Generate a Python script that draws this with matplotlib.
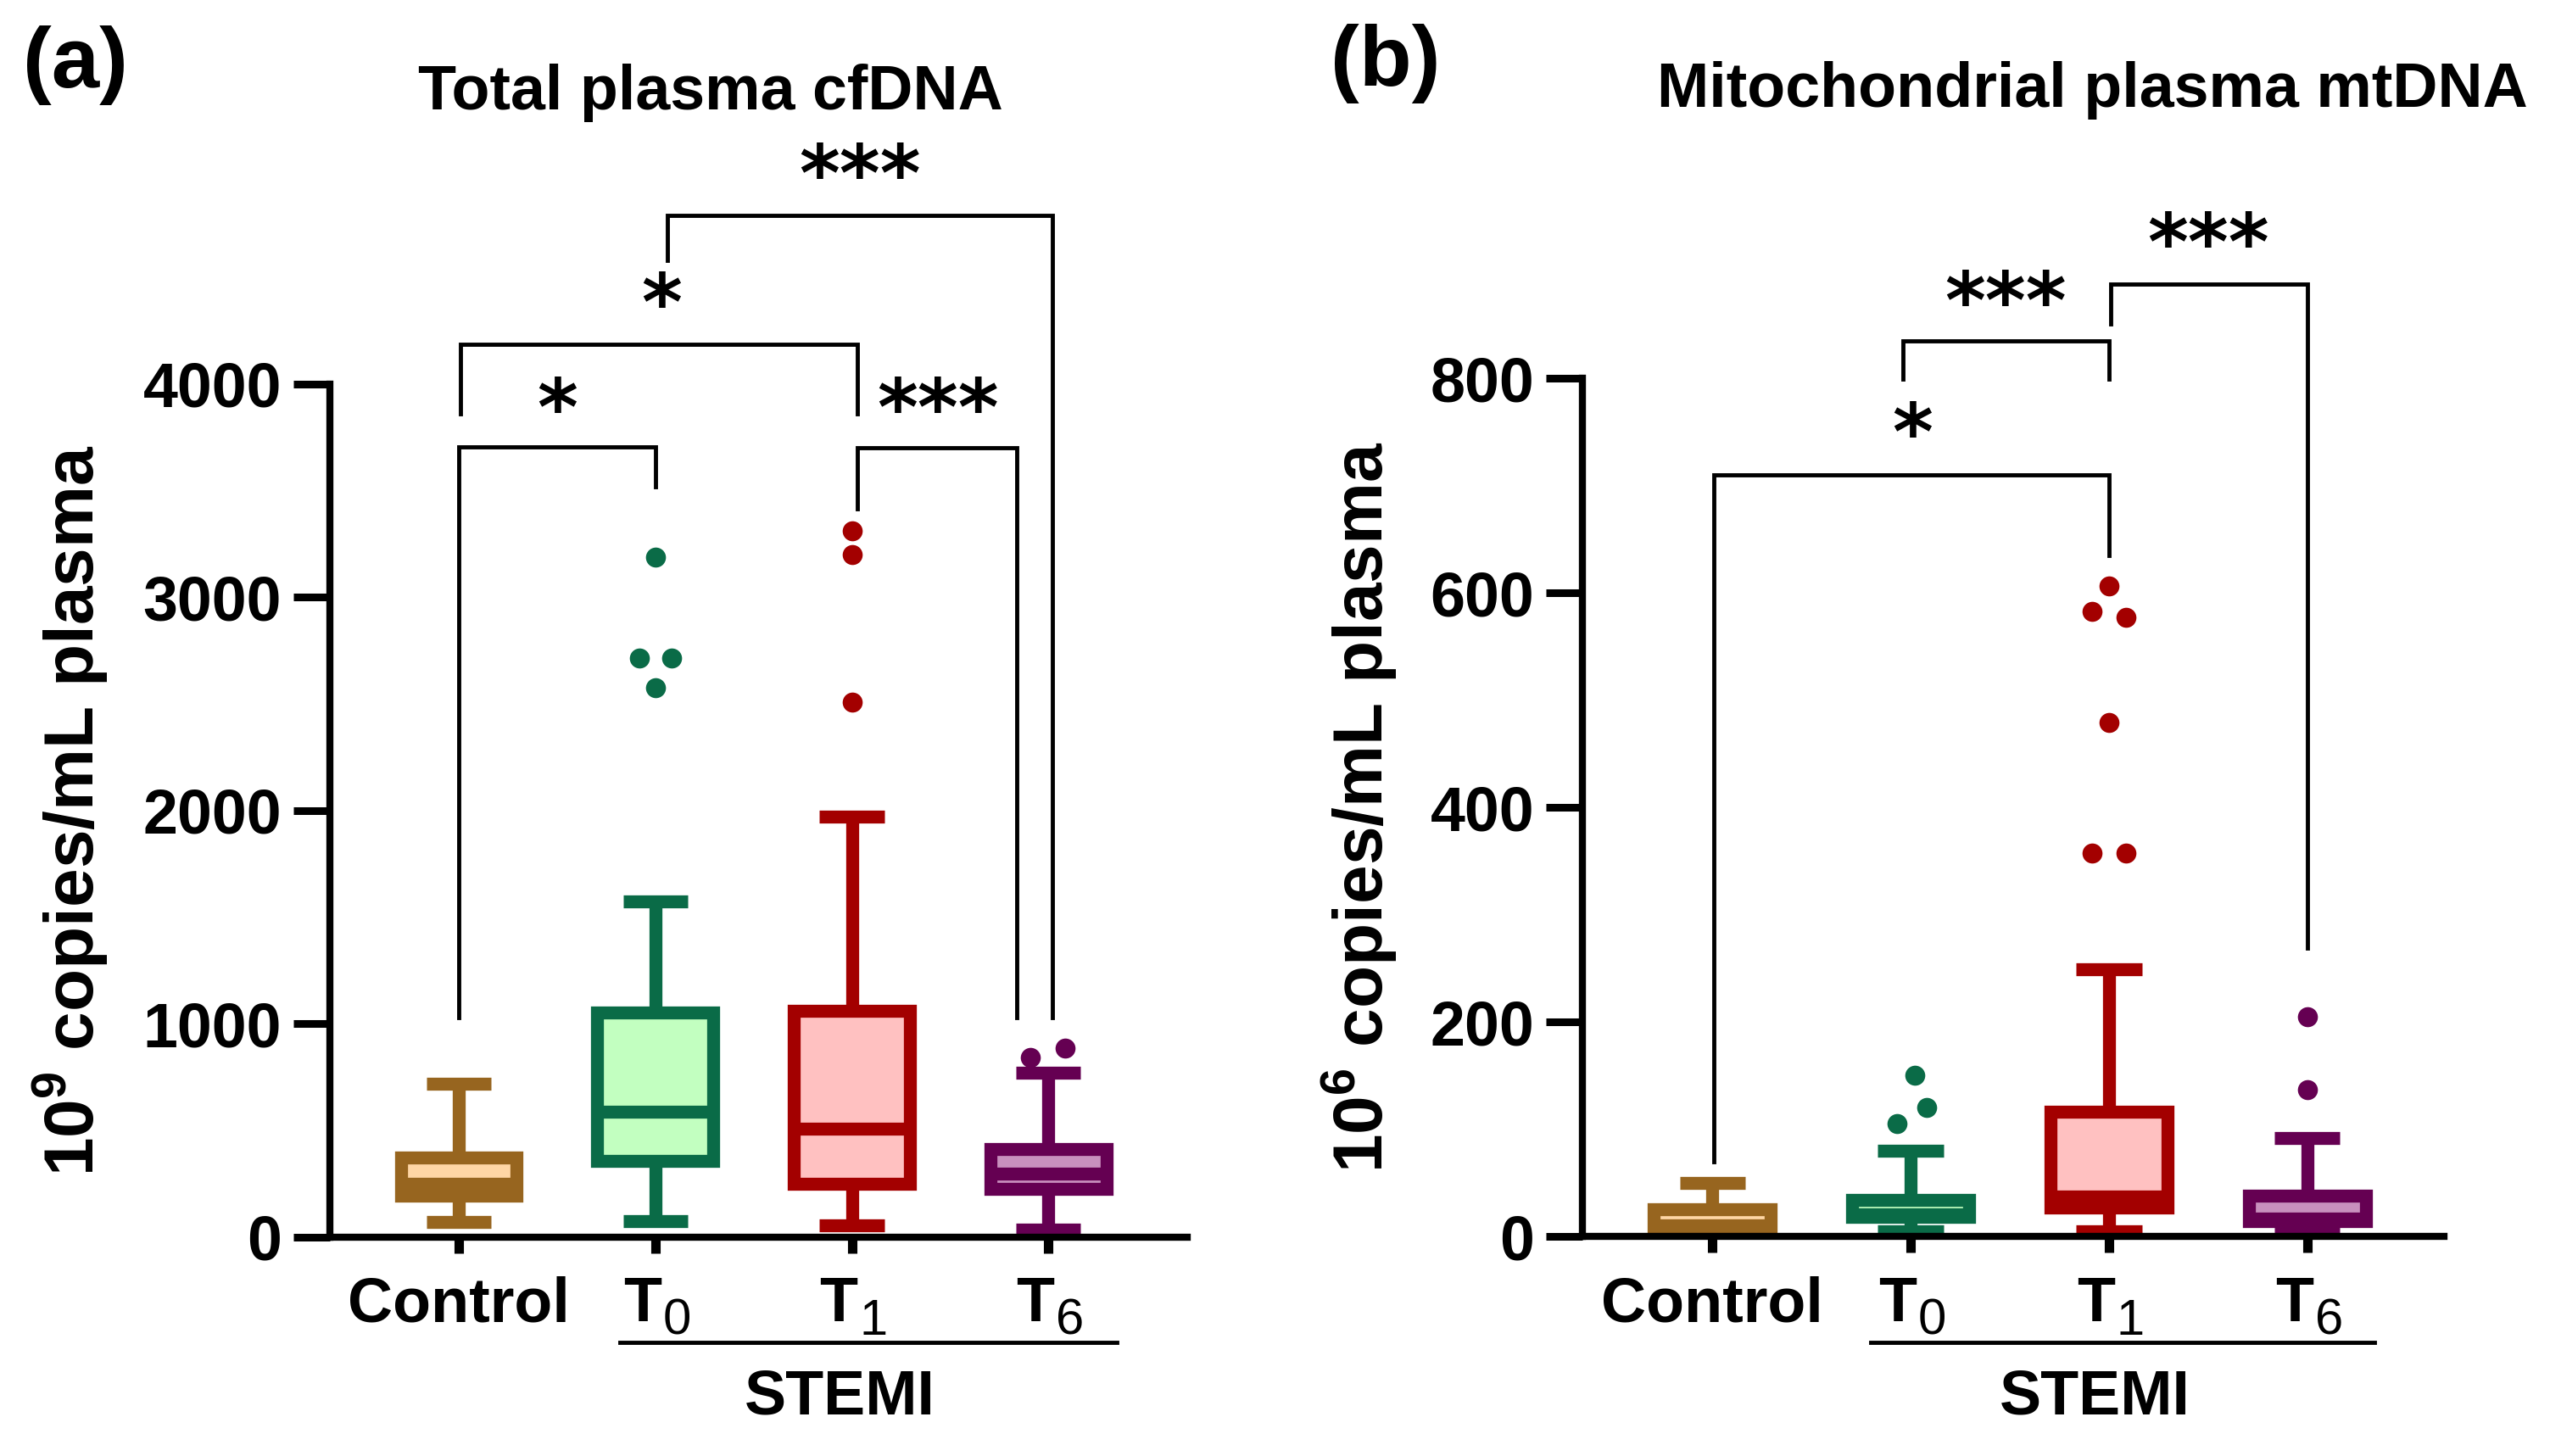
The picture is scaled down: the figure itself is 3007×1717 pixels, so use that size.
import matplotlib
matplotlib.use('Agg')
import matplotlib.pyplot as plt
import matplotlib.transforms as mtransforms

plt.rcParams['font.family'] = ['Liberation Sans', 'DejaVu Sans']
plt.rcParams['font.weight'] = 'bold'
plt.rcParams['mathtext.fontset'] = 'custom'
plt.rcParams['mathtext.rm'] = 'Liberation Sans'
plt.rcParams['mathtext.bf'] = 'Liberation Sans:bold'

# groups and colours
groups = ['Control', 'T0', 'T1', 'T6']
edge_colors = ['#97651f', '#0a6b47', '#a30000', '#650052']
fill_colors = ['#ffd6a5', '#c2ffc0', '#ffc1c1', '#c890be']

# (a) total plasma cfDNA, 10^9 copies/mL
cf_lo = [72, 76, 56, 35]
cf_q1 = [195, 358, 249, 227]
cf_med = [250, 589, 509, 298]
cf_q3 = [374, 1054, 1062, 414]
cf_hi = [720, 1575, 1972, 771]
cf_out = [[], [3190, 2715, 2715, 2575], [3310, 3200, 2510], [843, 887]]
cf_jit = [[], [0, -0.083, 0.083, 0], [0, 0, 0], [-0.09, 0.085]]

# (b) mitochondrial plasma mtDNA, 10^6 copies/mL
mt_lo = [2, 5, 5, 3]
mt_q1 = [6, 18, 27, 14]
mt_med = [10, 21, 37, 17]
mt_q3 = [25, 34, 116, 38]
mt_hi = [50, 80, 249, 92]
mt_out = [[], [150, 120, 105], [606, 583, 577, 479, 357, 357], [205, 137]]
mt_jit = [[], [0.02, 0.08, -0.07], [0, -0.086, 0.086, 0, -0.086, 0.086], [0, 0]]

# significance brackets: x1, x2, left leg end, right leg end, bar height, label, label x, label y
cf_sig = [(0, 1, 1030, 3519, 3706, '*', 0.5, 3940),
          (2.03, 2.84, 3416, 1030, 3702, '***', 2.44, 3940),
          (0.01, 2.03, 3861, 3861, 4187, '*', 1.03, 4433),
          (1.06, 3.02, 4580, 1030, 4791, '***', 2.04, 5037)]
mt_sig = [(0.01, 2.0, 70, 635, 710, '*', 1.01, 760),
          (0.96, 2.0, 799, 799, 835, '***', 1.48, 882),
          (2.01, 3.0, 851, 269, 888, '***', 2.5, 937)]

LW = 11
STAR_FS = 66


def panel(ax, lo, q1, med, q3, hi, outs, jit, sig, ymax, ystep, xlim):
    stats = [dict(whislo=lo[i], q1=q1[i], med=med[i], q3=q3[i], whishi=hi[i], fliers=[])
             for i in range(4)]
    bp = ax.bxp(stats, positions=range(4), widths=0.59, capwidths=0.33,
                patch_artist=True, showfliers=False, manage_ticks=False)
    for i in range(4):
        c = edge_colors[i]
        bp['boxes'][i].set(facecolor=fill_colors[i], edgecolor=c, linewidth=LW)
        bp['medians'][i].set(color=c, linewidth=LW, solid_capstyle='butt')
        for w in bp['whiskers'][2 * i:2 * i + 2]:
            w.set(color=c, linewidth=LW, solid_capstyle='butt')
        for cp in bp['caps'][2 * i:2 * i + 2]:
            cp.set(color=c, linewidth=LW, solid_capstyle='butt')
        if outs[i]:
            ax.plot([i + j for j in jit[i]], outs[i], 'o', color=c, ms=17,
                    mec='none', clip_on=False, zorder=5)

    for x1, x2, ya, yb, h, lab, lx, ly in sig:
        ax.plot([x1, x1, x2, x2], [ya, h, h, yb], color='k', lw=3.5,
                clip_on=False, solid_joinstyle='miter')
        ax.annotate(lab, xy=(lx, ly), xytext=(0, -0.49 * STAR_FS),
                    textcoords='offset points', ha='center', va='baseline',
                    fontsize=STAR_FS, family='DejaVu Sans', weight='bold',
                    annotation_clip=False)

    ax.set_xlim(*xlim)
    ax.set_ylim(0, ymax)
    ax.set_yticks(range(0, ymax + 1, ystep))
    ax.set_xticks(range(4))
    ax.set_xticklabels([])
    for s in ['top', 'right']:
        ax.spines[s].set_visible(False)
    for s in ['left', 'bottom']:
        ax.spines[s].set_linewidth(6)
    ax.tick_params(axis='y', length=31, width=6.5, pad=10, labelsize=53)
    ax.tick_params(axis='x', length=14, width=8)
    for t in ax.get_yticklabels():
        t.set_fontweight('bold')

    # category labels
    tr = mtransforms.blended_transform_factory(ax.transData, fig.transFigure)
    ax.annotate('Control', xy=(0.0, 0.0926), xycoords=tr, ha='center',
                va='baseline', fontsize=53, weight='bold', annotation_clip=False)
    for i, g in enumerate(groups[1:], start=1):
        ax.annotate(g[0], xy=(i, 0.0926), xycoords=tr, xytext=(5, 0),
                    textcoords='offset points', ha='right', va='baseline',
                    fontsize=53, weight='bold', annotation_clip=False)
        ax.annotate(g[1], xy=(i, 0.0926), xycoords=tr, xytext=(6.5, -11.5),
                    textcoords='offset points', ha='left', va='baseline',
                    fontsize=43, weight='normal', annotation_clip=False)
    return tr


fig = plt.figure(figsize=(30.07, 17.17), dpi=100)
ax_a = fig.add_axes([0.1294, 0.1503, 0.3362, 0.5859])
ax_b = fig.add_axes([0.6206, 0.1508, 0.3379, 0.5894])

tr_a = panel(ax_a, cf_lo, cf_q1, cf_med, cf_q3, cf_hi, cf_out, cf_jit, cf_sig,
             4000, 1000, (-0.656, 3.707))
tr_b = panel(ax_b, mt_lo, mt_q1, mt_med, mt_q3, mt_hi, mt_out, mt_jit, mt_sig,
             800, 200, (-0.654, 3.69))

# STEMI grouping line
for tr, x1, x2, xs in [(tr_a, 0.82, 3.35, 1.94), (tr_b, 0.80, 3.34, 1.93)]:
    ax_a.plot([x1, x2], [0.078, 0.078], transform=tr, color='k', lw=3.5, clip_on=False)
    fig.text(xs, 0.028, 'STEMI', transform=tr, ha='center', va='baseline',
             fontsize=53, weight='bold')

ax_a.set_ylabel('10$^{\\mathbf{9}}$ copies/mL plasma', fontsize=59, fontweight='bold')
ax_a.yaxis.set_label_coords(-0.256, 0.5)
ax_b.set_ylabel('10$^{\\mathbf{6}}$ copies/mL plasma', fontsize=59, fontweight='bold')
ax_b.yaxis.set_label_coords(-0.213, 0.5)

fig.text(0.2787, 0.9249, 'Total plasma cfDNA', ha='center', va='baseline',
         fontsize=53, weight='bold')
fig.text(0.8204, 0.9266, 'Mitochondrial plasma mtDNA', ha='center', va='baseline',
         fontsize=53, weight='bold')
fig.text(0.009, 0.940, '(a)', ha='left', va='baseline', fontsize=73, weight='bold')
fig.text(0.5218, 0.941, '(b)', ha='left', va='baseline', fontsize=73, weight='bold')

fig.savefig('out.png', dpi=100)
